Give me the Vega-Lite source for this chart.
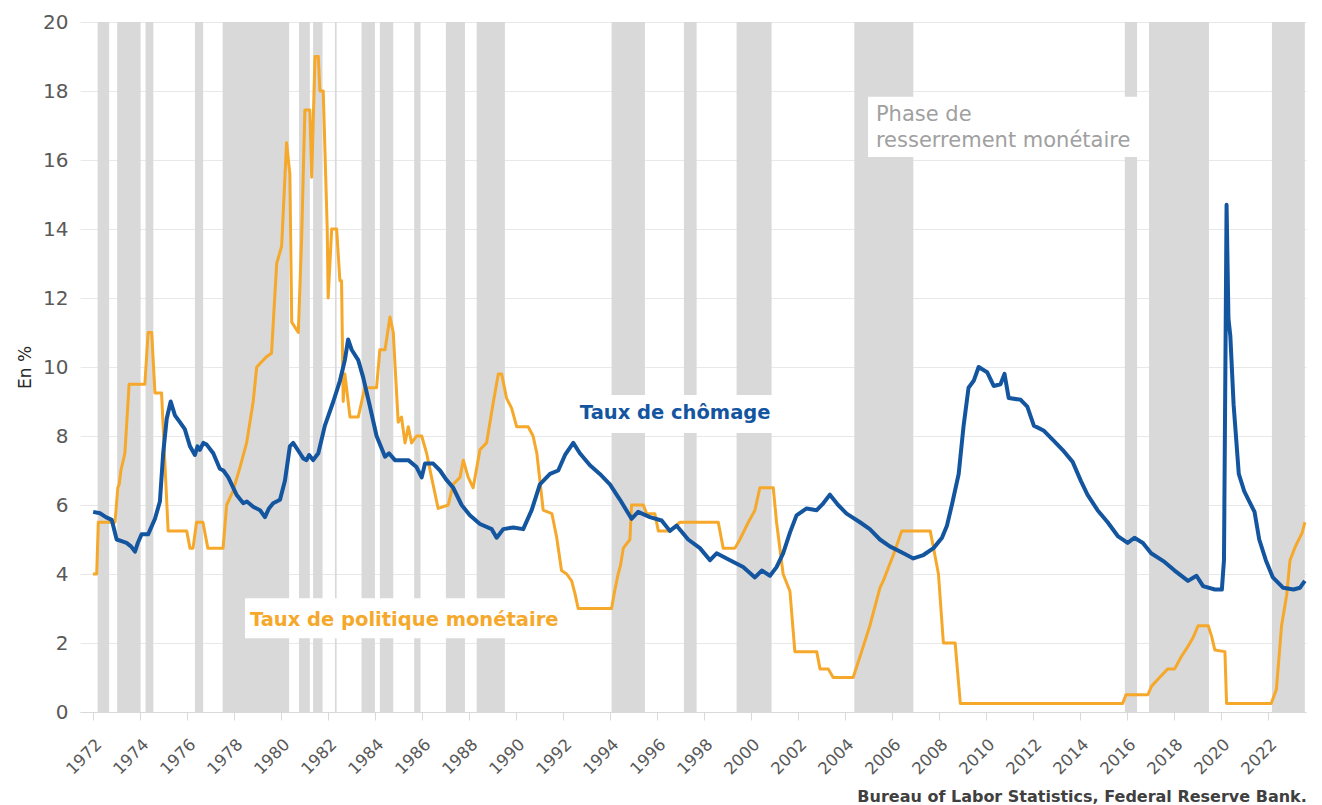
{
  "$schema": "https://vega.github.io/schema/vega-lite/v6.json",
  "width": 1226,
  "height": 690,
  "autosize": {"type": "none"},
  "padding": {"left": 80, "top": 22, "right": 16, "bottom": 93},
  "background": "white",
  "config": {"view": {"stroke": null}, "font": "DejaVu Sans"},
  "title": {"text": "Bureau of Labor Statistics, Federal Reserve Bank.", "orient": "bottom", "anchor": "end", "fontSize": 16, "fontWeight": "bold", "color": "#404040", "offset": 12, "font": "DejaVu Sans"},
  "datasets": {
    "bands": [
      {"s": 1972.20, "e": 1972.69}, {"s": 1973.03, "e": 1974.03}, {"s": 1974.24, "e": 1974.57},
      {"s": 1976.34, "e": 1976.69}, {"s": 1977.52, "e": 1980.35}, {"s": 1980.77, "e": 1981.23},
      {"s": 1981.37, "e": 1981.77}, {"s": 1982.30, "e": 1982.37}, {"s": 1983.43, "e": 1984.00},
      {"s": 1984.21, "e": 1984.78}, {"s": 1985.67, "e": 1985.94}, {"s": 1987.02, "e": 1987.83},
      {"s": 1988.33, "e": 1989.53}, {"s": 1994.07, "e": 1995.49}, {"s": 1997.15, "e": 1997.69},
      {"s": 1999.39, "e": 2000.88}, {"s": 2004.40, "e": 2006.91}, {"s": 2015.91, "e": 2016.43},
      {"s": 2016.94, "e": 2019.49}, {"s": 2022.17, "e": 2023.57}
    ],
    "boxes": [
      {"s": 1978.47, "e": 1991.79, "lo": 2.14, "hi": 3.30},
      {"s": 1992.38, "e": 2001.06, "lo": 8.09, "hi": 9.19},
      {"s": 2004.98, "e": 2016.51, "lo": 16.09, "hi": 17.83}
    ],
    "policy": [
      {"t": 1972.00, "v": 4.0}, {"t": 1972.16, "v": 4.0}, {"t": 1972.23, "v": 5.5}, {"t": 1972.94, "v": 5.5},
      {"t": 1973.06, "v": 6.5}, {"t": 1973.12, "v": 6.6}, {"t": 1973.19, "v": 7.0}, {"t": 1973.36, "v": 7.5}, {"t": 1973.54, "v": 9.5},
      {"t": 1974.21, "v": 9.5}, {"t": 1974.35, "v": 11.0}, {"t": 1974.50, "v": 11.0}, {"t": 1974.64, "v": 9.25},
      {"t": 1974.92, "v": 9.25}, {"t": 1975.20, "v": 5.25}, {"t": 1975.99, "v": 5.25}, {"t": 1976.13, "v": 4.75},
      {"t": 1976.26, "v": 4.75}, {"t": 1976.41, "v": 5.5}, {"t": 1976.68, "v": 5.5}, {"t": 1976.89, "v": 4.75},
      {"t": 1977.54, "v": 4.75}, {"t": 1977.69, "v": 6.0}, {"t": 1977.96, "v": 6.4}, {"t": 1978.26, "v": 7.1},
      {"t": 1978.54, "v": 7.8}, {"t": 1978.82, "v": 9.0}, {"t": 1978.97, "v": 10.0}, {"t": 1979.39, "v": 10.3},
      {"t": 1979.60, "v": 10.4}, {"t": 1979.82, "v": 13.0}, {"t": 1980.03, "v": 13.5}, {"t": 1980.24, "v": 16.5},
      {"t": 1980.38, "v": 15.6}, {"t": 1980.46, "v": 11.3}, {"t": 1980.74, "v": 11.0}, {"t": 1980.88, "v": 13.7},
      {"t": 1981.02, "v": 17.45}, {"t": 1981.23, "v": 17.45}, {"t": 1981.31, "v": 15.5}, {"t": 1981.45, "v": 19.0},
      {"t": 1981.59, "v": 19.0}, {"t": 1981.66, "v": 18.0}, {"t": 1981.80, "v": 18.0}, {"t": 1981.97, "v": 14.0},
      {"t": 1982.01, "v": 12.0}, {"t": 1982.16, "v": 14.0}, {"t": 1982.37, "v": 14.0}, {"t": 1982.51, "v": 12.5},
      {"t": 1982.58, "v": 12.5}, {"t": 1982.65, "v": 9.0}, {"t": 1982.72, "v": 9.8}, {"t": 1982.94, "v": 8.55},
      {"t": 1983.29, "v": 8.55}, {"t": 1983.57, "v": 9.4}, {"t": 1984.07, "v": 9.4}, {"t": 1984.21, "v": 10.5},
      {"t": 1984.43, "v": 10.5}, {"t": 1984.64, "v": 11.45}, {"t": 1984.78, "v": 11.0}, {"t": 1984.99, "v": 8.4},
      {"t": 1985.13, "v": 8.55}, {"t": 1985.28, "v": 7.8}, {"t": 1985.42, "v": 8.27}, {"t": 1985.56, "v": 7.8},
      {"t": 1985.77, "v": 8.0}, {"t": 1985.99, "v": 8.0}, {"t": 1986.20, "v": 7.5}, {"t": 1986.41, "v": 6.8},
      {"t": 1986.69, "v": 5.9}, {"t": 1987.12, "v": 6.0}, {"t": 1987.33, "v": 6.6}, {"t": 1987.62, "v": 6.8},
      {"t": 1987.76, "v": 7.3}, {"t": 1987.97, "v": 6.8}, {"t": 1988.18, "v": 6.5}, {"t": 1988.47, "v": 7.6},
      {"t": 1988.75, "v": 7.8}, {"t": 1989.03, "v": 8.95}, {"t": 1989.25, "v": 9.8}, {"t": 1989.39, "v": 9.8},
      {"t": 1989.60, "v": 9.1}, {"t": 1989.82, "v": 8.8}, {"t": 1990.03, "v": 8.27}, {"t": 1990.52, "v": 8.27},
      {"t": 1990.73, "v": 8.0}, {"t": 1990.89, "v": 7.5}, {"t": 1991.16, "v": 5.85}, {"t": 1991.53, "v": 5.75},
      {"t": 1991.73, "v": 5.08}, {"t": 1991.94, "v": 4.1}, {"t": 1992.16, "v": 4.0}, {"t": 1992.37, "v": 3.8},
      {"t": 1992.51, "v": 3.44}, {"t": 1992.65, "v": 3.0}, {"t": 1994.07, "v": 3.0}, {"t": 1994.20, "v": 3.5},
      {"t": 1994.35, "v": 4.0}, {"t": 1994.45, "v": 4.25},
      {"t": 1994.57, "v": 4.75}, {"t": 1994.85, "v": 5.0}, {"t": 1994.92, "v": 6.0}, {"t": 1995.42, "v": 6.0},
      {"t": 1995.56, "v": 5.75}, {"t": 1995.91, "v": 5.75}, {"t": 1996.06, "v": 5.25}, {"t": 1996.55, "v": 5.25},
      {"t": 1996.98, "v": 5.5}, {"t": 1998.61, "v": 5.5}, {"t": 1998.82, "v": 4.75}, {"t": 1999.32, "v": 4.75},
      {"t": 1999.53, "v": 5.0}, {"t": 1999.89, "v": 5.5}, {"t": 2000.17, "v": 5.85}, {"t": 2000.38, "v": 6.5},
      {"t": 2000.95, "v": 6.5}, {"t": 2001.09, "v": 5.5}, {"t": 2001.37, "v": 4.0}, {"t": 2001.66, "v": 3.5},
      {"t": 2001.87, "v": 1.75}, {"t": 2002.80, "v": 1.75}, {"t": 2002.94, "v": 1.25}, {"t": 2003.29, "v": 1.25},
      {"t": 2003.50, "v": 1.0}, {"t": 2004.35, "v": 1.0}, {"t": 2004.71, "v": 1.75}, {"t": 2005.06, "v": 2.5},
      {"t": 2005.49, "v": 3.6}, {"t": 2005.63, "v": 3.8}, {"t": 2006.06, "v": 4.55}, {"t": 2006.42, "v": 5.25},
      {"t": 2007.63, "v": 5.25}, {"t": 2007.77, "v": 4.75}, {"t": 2007.98, "v": 4.0}, {"t": 2008.19, "v": 2.0},
      {"t": 2008.69, "v": 2.0}, {"t": 2008.91, "v": 0.25}, {"t": 2015.82, "v": 0.25}, {"t": 2015.96, "v": 0.5},
      {"t": 2016.89, "v": 0.5}, {"t": 2017.05, "v": 0.75}, {"t": 2017.39, "v": 1.0}, {"t": 2017.74, "v": 1.25},
      {"t": 2018.03, "v": 1.25}, {"t": 2018.31, "v": 1.6}, {"t": 2018.55, "v": 1.85}, {"t": 2018.81, "v": 2.15},
      {"t": 2019.03, "v": 2.5}, {"t": 2019.46, "v": 2.5}, {"t": 2019.60, "v": 2.2}, {"t": 2019.74, "v": 1.8},
      {"t": 2020.17, "v": 1.75}, {"t": 2020.24, "v": 0.25}, {"t": 2022.14, "v": 0.25}, {"t": 2022.36, "v": 0.65},
      {"t": 2022.58, "v": 2.5}, {"t": 2022.80, "v": 3.4}, {"t": 2022.94, "v": 4.4}, {"t": 2023.17, "v": 4.8},
      {"t": 2023.46, "v": 5.2}, {"t": 2023.57, "v": 5.5}
    ],
    "unemp": [
      {"t": 1972.01, "v": 5.8}, {"t": 1972.30, "v": 5.76}, {"t": 1972.55, "v": 5.65}, {"t": 1972.80, "v": 5.57},
      {"t": 1973.01, "v": 5.0}, {"t": 1973.22, "v": 4.95}, {"t": 1973.43, "v": 4.9}, {"t": 1973.62, "v": 4.8},
      {"t": 1973.79, "v": 4.65}, {"t": 1973.91, "v": 4.9}, {"t": 1974.07, "v": 5.15}, {"t": 1974.35, "v": 5.15},
      {"t": 1974.64, "v": 5.6}, {"t": 1974.85, "v": 6.1}, {"t": 1974.99, "v": 7.5}, {"t": 1975.14, "v": 8.5},
      {"t": 1975.31, "v": 9.0}, {"t": 1975.49, "v": 8.6}, {"t": 1975.70, "v": 8.4}, {"t": 1975.91, "v": 8.2},
      {"t": 1976.13, "v": 7.7}, {"t": 1976.34, "v": 7.45}, {"t": 1976.45, "v": 7.7}, {"t": 1976.55, "v": 7.6}, {"t": 1976.70, "v": 7.8}, {"t": 1976.84, "v": 7.75},
      {"t": 1977.12, "v": 7.5}, {"t": 1977.40, "v": 7.05}, {"t": 1977.55, "v": 7.0}, {"t": 1977.76, "v": 6.8}, {"t": 1978.11, "v": 6.3},
      {"t": 1978.40, "v": 6.05}, {"t": 1978.55, "v": 6.1}, {"t": 1978.82, "v": 5.95}, {"t": 1979.11, "v": 5.85}, {"t": 1979.32, "v": 5.65},
      {"t": 1979.49, "v": 5.9}, {"t": 1979.67, "v": 6.05}, {"t": 1979.96, "v": 6.15}, {"t": 1980.17, "v": 6.7},
      {"t": 1980.38, "v": 7.7}, {"t": 1980.52, "v": 7.8}, {"t": 1980.81, "v": 7.5}, {"t": 1980.95, "v": 7.35}, {"t": 1981.09, "v": 7.3},
      {"t": 1981.20, "v": 7.45}, {"t": 1981.37, "v": 7.3}, {"t": 1981.59, "v": 7.5}, {"t": 1981.87, "v": 8.3}, {"t": 1982.23, "v": 9.0},
      {"t": 1982.51, "v": 9.6}, {"t": 1982.72, "v": 10.2}, {"t": 1982.86, "v": 10.8}, {"t": 1983.01, "v": 10.5},
      {"t": 1983.29, "v": 10.2}, {"t": 1983.50, "v": 9.7}, {"t": 1983.79, "v": 8.85}, {"t": 1984.07, "v": 8.0},
      {"t": 1984.43, "v": 7.4}, {"t": 1984.60, "v": 7.5}, {"t": 1984.85, "v": 7.3}, {"t": 1985.10, "v": 7.3}, {"t": 1985.42, "v": 7.3}, {"t": 1985.77, "v": 7.1},
      {"t": 1985.99, "v": 6.8}, {"t": 1986.13, "v": 7.2}, {"t": 1986.48, "v": 7.2}, {"t": 1986.77, "v": 7.0},
      {"t": 1987.02, "v": 6.75}, {"t": 1987.33, "v": 6.5}, {"t": 1987.69, "v": 6.0}, {"t": 1988.04, "v": 5.7},
      {"t": 1988.47, "v": 5.45}, {"t": 1988.97, "v": 5.3}, {"t": 1989.18, "v": 5.05}, {"t": 1989.46, "v": 5.3},
      {"t": 1989.89, "v": 5.35}, {"t": 1990.31, "v": 5.3}, {"t": 1990.67, "v": 5.85}, {"t": 1991.02, "v": 6.6},
      {"t": 1991.45, "v": 6.9}, {"t": 1991.80, "v": 7.0}, {"t": 1992.09, "v": 7.45}, {"t": 1992.44, "v": 7.8},
      {"t": 1992.72, "v": 7.5}, {"t": 1993.15, "v": 7.15}, {"t": 1993.57, "v": 6.9}, {"t": 1994.00, "v": 6.6},
      {"t": 1994.43, "v": 6.15}, {"t": 1994.92, "v": 5.6}, {"t": 1995.20, "v": 5.8}, {"t": 1995.70, "v": 5.65},
      {"t": 1996.20, "v": 5.55}, {"t": 1996.55, "v": 5.25}, {"t": 1996.84, "v": 5.4}, {"t": 1997.33, "v": 5.0},
      {"t": 1997.83, "v": 4.75}, {"t": 1998.26, "v": 4.4}, {"t": 1998.54, "v": 4.6}, {"t": 1999.11, "v": 4.4},
      {"t": 1999.67, "v": 4.2}, {"t": 2000.17, "v": 3.9}, {"t": 2000.46, "v": 4.1}, {"t": 2000.81, "v": 3.95},
      {"t": 2001.09, "v": 4.2}, {"t": 2001.37, "v": 4.6}, {"t": 2001.66, "v": 5.2}, {"t": 2001.94, "v": 5.7},
      {"t": 2002.37, "v": 5.9}, {"t": 2002.80, "v": 5.85}, {"t": 2003.08, "v": 6.05}, {"t": 2003.36, "v": 6.3},
      {"t": 2003.71, "v": 6.0}, {"t": 2004.07, "v": 5.75}, {"t": 2004.64, "v": 5.5}, {"t": 2005.06, "v": 5.3},
      {"t": 2005.49, "v": 5.0}, {"t": 2005.91, "v": 4.8}, {"t": 2006.49, "v": 4.6}, {"t": 2006.91, "v": 4.45},
      {"t": 2007.34, "v": 4.55}, {"t": 2007.77, "v": 4.75}, {"t": 2008.13, "v": 5.05}, {"t": 2008.34, "v": 5.4},
      {"t": 2008.55, "v": 6.0}, {"t": 2008.84, "v": 6.9}, {"t": 2009.05, "v": 8.3}, {"t": 2009.26, "v": 9.4},
      {"t": 2009.48, "v": 9.6}, {"t": 2009.69, "v": 10.0}, {"t": 2010.05, "v": 9.85}, {"t": 2010.33, "v": 9.45},
      {"t": 2010.62, "v": 9.5}, {"t": 2010.79, "v": 9.8}, {"t": 2010.97, "v": 9.1}, {"t": 2011.48, "v": 9.05},
      {"t": 2011.76, "v": 8.85}, {"t": 2012.04, "v": 8.3}, {"t": 2012.47, "v": 8.15}, {"t": 2012.90, "v": 7.85},
      {"t": 2013.26, "v": 7.6}, {"t": 2013.69, "v": 7.25}, {"t": 2014.04, "v": 6.7}, {"t": 2014.32, "v": 6.3},
      {"t": 2014.75, "v": 5.85}, {"t": 2015.18, "v": 5.5}, {"t": 2015.61, "v": 5.1}, {"t": 2016.03, "v": 4.9},
      {"t": 2016.32, "v": 5.05}, {"t": 2016.68, "v": 4.9}, {"t": 2017.03, "v": 4.6}, {"t": 2017.60, "v": 4.35},
      {"t": 2018.03, "v": 4.1}, {"t": 2018.60, "v": 3.8}, {"t": 2018.96, "v": 3.95}, {"t": 2019.24, "v": 3.65},
      {"t": 2019.74, "v": 3.55}, {"t": 2020.04, "v": 3.55}, {"t": 2020.13, "v": 4.4}, {"t": 2020.24, "v": 14.7},
      {"t": 2020.32, "v": 11.4}, {"t": 2020.40, "v": 10.9}, {"t": 2020.54, "v": 8.9}, {"t": 2020.76, "v": 6.9},
      {"t": 2020.99, "v": 6.4}, {"t": 2021.21, "v": 6.1}, {"t": 2021.43, "v": 5.8}, {"t": 2021.63, "v": 5.0},
      {"t": 2021.91, "v": 4.4}, {"t": 2022.21, "v": 3.9}, {"t": 2022.65, "v": 3.6}, {"t": 2023.09, "v": 3.55},
      {"t": 2023.36, "v": 3.6}, {"t": 2023.57, "v": 3.8}
    ],
    "labels": [
      {"t": 1978.68, "v": 2.67, "txt": "Taux de politique monétaire", "kind": "policy"},
      {"t": 1992.72, "v": 8.67, "txt": "Taux de chômage", "kind": "unemp"}
    ],
    "phase": [
      {"t": 2005.32, "v": 17.3, "txt": "Phase de\nresserrement monétaire"}
    ]
  },
  "layer": [
    {
      "data": {"name": "bands"},
      "mark": {"type": "rect", "color": "#d9d9d9"},
      "encoding": {
        "x": {"field": "s", "type": "quantitative", "scale": {"domain": [1971.45, 2023.62], "nice": false, "zero": false},
          "axis": {"values": [1972,1974,1976,1978,1980,1982,1984,1986,1988,1990,1992,1994,1996,1998,2000,2002,2004,2006,2008,2010,2012,2014,2016,2018,2020,2022],
            "format": "d", "labelAngle": -45, "labelFontSize": 16.5, "labelColor": "#595959", "grid": false,
            "domainColor": "#d9d9d9", "tickColor": "#d9d9d9", "tickSize": 8, "labelPadding": 16, "title": null}},
        "x2": {"field": "e"},
        "y": {"datum": 0, "type": "quantitative", "scale": {"domain": [0, 20], "nice": false},
          "axis": {"values": [0,2,4,6,8,10,12,14,16,18,20], "grid": true, "gridColor": "#e8e8e8", "domain": false, "ticks": false,
            "labelFontSize": 20, "labelColor": "#595959", "labelPadding": 12, "title": "En %", "titleFontSize": 17,
            "titleFontWeight": "normal", "titleColor": "#262626", "titlePadding": 8}},
        "y2": {"datum": 20}
      }
    },
    {
      "data": {"name": "boxes"},
      "mark": {"type": "rect", "color": "white"},
      "encoding": {
        "x": {"field": "s", "type": "quantitative"},
        "x2": {"field": "e"},
        "y": {"field": "lo", "type": "quantitative"},
        "y2": {"field": "hi"}
      }
    },
    {
      "data": {"name": "policy"},
      "mark": {"type": "line", "color": "#f5a82a", "strokeWidth": 3, "strokeJoin": "round"},
      "encoding": {
        "x": {"field": "t", "type": "quantitative"},
        "y": {"field": "v", "type": "quantitative"}
      }
    },
    {
      "data": {"name": "unemp"},
      "mark": {"type": "line", "color": "#14559f", "strokeWidth": 4, "strokeJoin": "round"},
      "encoding": {
        "x": {"field": "t", "type": "quantitative"},
        "y": {"field": "v", "type": "quantitative"}
      }
    },
    {
      "data": {"name": "labels"},
      "mark": {"type": "text", "align": "left", "baseline": "middle", "fontSize": 19.5, "fontWeight": "bold"},
      "encoding": {
        "x": {"field": "t", "type": "quantitative"},
        "y": {"field": "v", "type": "quantitative"},
        "text": {"field": "txt"},
        "color": {"field": "kind", "type": "nominal", "scale": {"domain": ["policy", "unemp"], "range": ["#f5a82a", "#14559f"]}, "legend": null}
      }
    },
    {
      "data": {"name": "phase"},
      "mark": {"type": "text", "align": "left", "baseline": "middle", "fontSize": 21, "lineBreak": "\n", "lineHeight": 26, "color": "#a0a0a0"},
      "encoding": {
        "x": {"field": "t", "type": "quantitative"},
        "y": {"field": "v", "type": "quantitative"},
        "text": {"field": "txt"}
      }
    }
  ]
}
